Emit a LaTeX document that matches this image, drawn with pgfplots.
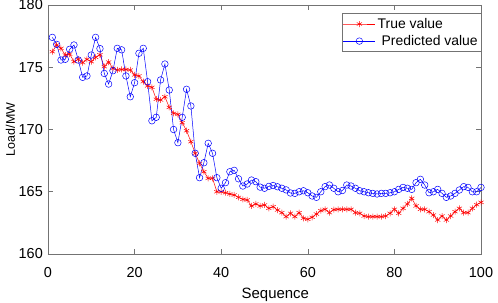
\documentclass[border=0pt]{standalone}
\usepackage{fontspec}
\setmainfont{Liberation Sans}
\usepackage{pgfplots}
\pgfplotsset{compat=1.18}
\usepackage{pgfplotstable}

\pgfplotstableread{
x true pred
1 176.25 177.40
2 176.79 176.84
3 176.52 175.58
4 175.98 175.64
5 176.06 176.44
6 175.45 176.79
7 175.64 175.58
8 175.37 174.19
9 175.64 174.30
10 175.45 175.98
11 175.80 177.40
12 176.00 176.50
13 175.05 174.50
14 175.42 173.65
15 174.91 174.72
16 174.78 176.52
17 174.82 176.40
18 174.82 174.30
19 174.78 172.63
20 174.38 173.76
21 174.30 176.12
22 173.84 176.52
23 173.50 173.84
24 173.39 170.70
25 172.43 170.98
26 172.37 173.98
27 172.63 175.26
28 171.78 173.17
29 171.30 170.00
30 171.22 168.94
31 170.55 170.98
32 169.90 173.23
33 169.02 171.89
34 168.09 168.09
35 167.28 166.13
36 166.61 167.33
37 166.08 168.89
38 166.08 168.09
39 165.00 166.13
40 165.00 165.28
41 164.92 165.73
42 164.82 166.61
43 164.74 166.72
44 164.55 166.04
45 164.39 165.46
46 164.34 165.62
47 163.86 165.94
48 164.02 165.81
49 163.86 165.37
50 163.94 165.28
51 163.67 165.43
52 163.80 165.50
53 163.53 165.40
54 163.32 165.28
55 163.00 165.15
56 163.27 164.90
57 163.00 164.87
58 163.32 165.00
59 162.87 165.08
60 162.79 164.92
61 162.95 164.66
62 163.21 164.55
63 163.48 165.00
64 163.59 165.41
65 163.32 165.54
66 163.56 165.28
67 163.59 165.00
68 163.59 165.10
69 163.59 165.54
70 163.59 165.46
71 163.32 165.28
72 163.27 165.08
73 163.05 165.00
74 163.00 164.92
75 163.00 164.87
76 163.00 164.82
77 163.00 164.87
78 163.05 164.87
79 163.27 164.92
80 163.59 165.00
81 163.27 165.19
82 163.67 165.35
83 164.02 165.28
84 164.47 165.19
85 163.86 165.73
86 163.59 166.00
87 163.59 165.54
88 163.40 164.92
89 163.13 165.00
90 162.73 165.19
91 163.05 164.87
92 162.73 164.55
93 163.05 164.66
94 163.40 164.87
95 163.67 165.14
96 163.32 165.41
97 163.32 165.35
98 163.67 165.00
99 163.96 165.00
100 164.15 165.35
}\datatable

\begin{document}
\begin{tikzpicture}
\path[use as bounding box] (-48bp,-49bp) rectangle (450bp,254bp);
\begin{axis}[
  scale only axis, width=433bp, height=249bp,
  xmin=0, xmax=100, ymin=160, ymax=180,
  xtick={0,20,...,100}, ytick={160,165,...,180},
  axis line style={black!55, line width=0.6bp},
  major tick style={black!55, line width=0.6bp},
  major tick length=5bp,
  tick align=inside,
  /pgf/number format/assume math mode=true,
  ticklabel style={font=\fontsize{14.5}{16}\selectfont, inner sep=0pt},
  xticklabel style={anchor=base, yshift=-23bp},
  yticklabel style={anchor=east, xshift=-5bp},
  xlabel={Sequence},
  xlabel style={at={(axis description cs:0.525,0)}, anchor=base, yshift=-44bp, font=\fontsize{15}{17}\selectfont, inner sep=0pt},
  ylabel={Load/MW},
  ylabel style={at={(axis description cs:-0.087,0.5)}, anchor=center, font=\fontsize{12.5}{14}\selectfont, inner sep=0pt},
  legend style={at={(axis description cs:1,0.966)}, anchor=north east, draw=black!55, line width=0.5bp,
    font=\fontsize{14}{16}\selectfont, inner xsep=1bp, inner ysep=2.5bp, row sep=1.5bp},
  legend cell align=left,
  legend image code/.code={\draw[mark repeat=2,mark phase=2,#1] plot coordinates {(0bp,0bp)(16bp,0bp)(32bp,0bp)};},
]
\addplot[red, line width=0.5bp, mark=asterisk, mark size=3bp, mark options={line width=0.5bp}] table[x=x,y=true] {\datatable};
\addlegendentry{True value}
\addplot[blue, line width=0.5bp, mark=o, mark size=3.3bp, mark options={line width=0.5bp}] table[x=x,y=pred] {\datatable};
\addlegendentry{\hspace{4bp}Predicted value}
\end{axis}
\end{tikzpicture}
\end{document}
